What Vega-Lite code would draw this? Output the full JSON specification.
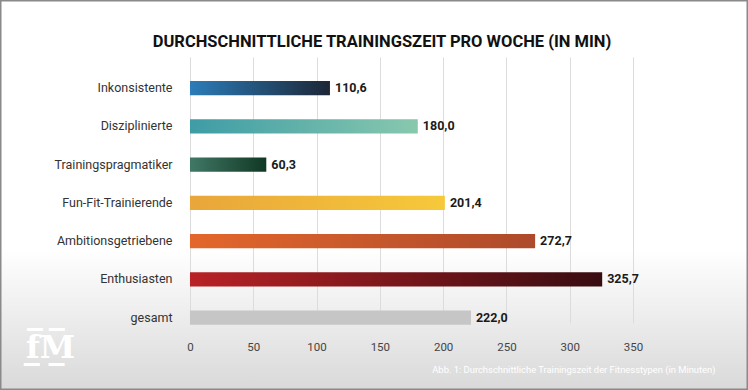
{
  "$schema": "https://vega.github.io/schema/vega-lite/v6.json",
  "width": 748,
  "height": 390,
  "autosize": {"type": "none"},
  "padding": 0,
  "background": "#ffffff",
  "view": {
    "fill": {"gradient": "linear", "x1": 0, "y1": 0, "x2": 0, "y2": 1, "stops": [{"offset": 0, "color": "#ffffff"}, {"offset": 0.64, "color": "#ffffff"}, {"offset": 1, "color": "#d9d9d9"}]},
    "stroke": "#8a8a8a",
    "strokeWidth": 3
  },
  "title": {
    "text": "DURCHSCHNITTLICHE TRAININGSZEIT PRO WOCHE (IN MIN)",
    "font": "Roboto",
    "fontSize": 16.5,
    "fontWeight": "bold",
    "color": "#111111",
    "anchor": "middle",
    "frame": "group",
    "offset": -50,
    "dx": 8
  },
  "data": {
    "values": [
      {"typ": "Inkonsistente", "wert": 110.6},
      {"typ": "Disziplinierte", "wert": 180.0},
      {"typ": "Trainingspragmatiker", "wert": 60.3},
      {"typ": "Fun-Fit-Trainierende", "wert": 201.4},
      {"typ": "Ambitionsgetriebene", "wert": 272.7},
      {"typ": "Enthusiasten", "wert": 325.7},
      {"typ": "gesamt", "wert": 222.0}
    ]
  },
  "encoding": {
    "y": {
      "field": "typ",
      "type": "nominal",
      "sort": null,
      "scale": {"range": [67, 333], "paddingInner": 0.6264, "paddingOuter": 0.2877, "align": 0.63},
      "axis": {
        "orient": "left",
        "offset": -190,
        "domain": false,
        "ticks": false,
        "labelPadding": 18,
        "labelFont": "Roboto",
        "labelFontSize": 12.5,
        "labelColor": "#333333",
        "title": "f̲̅M̲̅",
        "titleAngle": 0,
        "titleX": -140,
        "titleY": 357,
        "titleAlign": "center",
        "titleBaseline": "alphabetic",
        "titleFont": "DejaVu Serif",
        "titleFontSize": 32,
        "titleFontWeight": "bold",
        "titleColor": "#ffffff"
      }
    },
    "x": {
      "field": "wert",
      "type": "quantitative",
      "scale": {"domain": [-150.1, 440.9], "nice": false, "zero": false},
      "axis": {
        "orient": "bottom",
        "offset": -57,
        "values": [0, 50, 100, 150, 200, 250, 300, 350],
        "grid": true,
        "gridColor": "#dcdcdc",
        "gridWidth": 1,
        "domain": false,
        "ticks": false,
        "labelPadding": 8,
        "labelFont": "Roboto",
        "labelFontSize": 11.5,
        "labelColor": "#444444",
        "title": "Abb. 1: Durchschnittliche Trainingszeit der Fitnesstypen (in Minuten)",
        "titleX": 715,
        "titleY": 39,
        "titleAlign": "right",
        "titleAnchor": "start",
        "titleBaseline": "alphabetic",
        "titleFont": "Roboto",
        "titleFontSize": 9.4,
        "titleFontWeight": "normal",
        "titleColor": "#ffffff"
      }
    },
    "x2": {"datum": 0}
  },
  "layer": [
    {
      "transform": [{"filter": "datum.typ === 'Inkonsistente'"}],
      "mark": {"type": "bar", "fill": {"gradient": "linear", "x1": 0, "y1": 0, "x2": 1, "y2": 0, "stops": [{"offset": 0, "color": "#2b7cb9"}, {"offset": 1, "color": "#1d2636"}]}}
    },
    {
      "transform": [{"filter": "datum.typ === 'Disziplinierte'"}],
      "mark": {"type": "bar", "fill": {"gradient": "linear", "x1": 0, "y1": 0, "x2": 1, "y2": 0, "stops": [{"offset": 0, "color": "#3e9ca6"}, {"offset": 1, "color": "#88c8ae"}]}}
    },
    {
      "transform": [{"filter": "datum.typ === 'Trainingspragmatiker'"}],
      "mark": {"type": "bar", "fill": {"gradient": "linear", "x1": 0, "y1": 0, "x2": 1, "y2": 0, "stops": [{"offset": 0, "color": "#407866"}, {"offset": 1, "color": "#103824"}]}}
    },
    {
      "transform": [{"filter": "datum.typ === 'Fun-Fit-Trainierende'"}],
      "mark": {"type": "bar", "fill": {"gradient": "linear", "x1": 0, "y1": 0, "x2": 1, "y2": 0, "stops": [{"offset": 0, "color": "#e9a63a"}, {"offset": 1, "color": "#f6c93a"}]}}
    },
    {
      "transform": [{"filter": "datum.typ === 'Ambitionsgetriebene'"}],
      "mark": {"type": "bar", "fill": {"gradient": "linear", "x1": 0, "y1": 0, "x2": 1, "y2": 0, "stops": [{"offset": 0, "color": "#e3672b"}, {"offset": 1, "color": "#ad4a2b"}]}}
    },
    {
      "transform": [{"filter": "datum.typ === 'Enthusiasten'"}],
      "mark": {"type": "bar", "fill": {"gradient": "linear", "x1": 0, "y1": 0, "x2": 1, "y2": 0, "stops": [{"offset": 0, "color": "#b92226"}, {"offset": 1, "color": "#380c11"}]}}
    },
    {
      "transform": [{"filter": "datum.typ === 'gesamt'"}],
      "mark": {"type": "bar", "fill": "#c6c6c6"}
    },
    {
      "mark": {"type": "text", "align": "left", "baseline": "middle", "dx": 5, "font": "Roboto", "fontSize": 12.5, "fontWeight": "bold", "color": "#1a1a1a"},
      "encoding": {
        "x2": null,
        "text": {"field": "wert", "type": "quantitative", "format": ".1f"}
      }
    }
  ],
  "config": {
    "locale": {"number": {"decimal": ",", "thousands": ".", "grouping": [3], "currency": ["", " €"]}}
  }
}
